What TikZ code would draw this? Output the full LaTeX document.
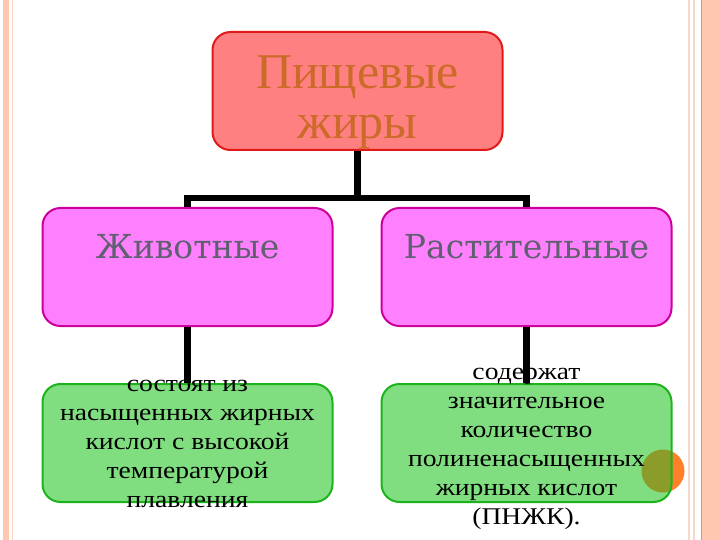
\documentclass[tikz,border=0pt]{standalone}
\usepackage{fontspec}
\setmainfont{Liberation Serif}
\newfontfamily\widefont{DejaVu Serif}
\newfontfamily\notefont[FakeStretch=1.15]{Liberation Serif}
\definecolor{topfill}{HTML}{FF8080}
\definecolor{topline}{HTML}{E01A1A}
\definecolor{toptext}{HTML}{CC6A2A}
\definecolor{magfill}{HTML}{FF80FF}
\definecolor{magline}{HTML}{CC0099}
\definecolor{magtext}{HTML}{5F5F70}
\definecolor{grnfill}{HTML}{80DD80}
\definecolor{grnline}{HTML}{1DB31D}
\definecolor{dotorange}{HTML}{FF7F2A}
\definecolor{dotolive}{HTML}{8C9C2A}
\definecolor{bordsalmon}{HTML}{FFC6B0}
\definecolor{bordline}{HTML}{E8906E}
\definecolor{bordlight}{HTML}{F6D8C6}
\newcommand{\fixedtext}[2]{\raisebox{#1}[0pt][0pt]{\begin{tabular}{@{}c@{}}#2\end{tabular}}}
\begin{document}
\begin{tikzpicture}[x=1pt,y=-1pt,
  boxbase/.style={rounded corners=18pt, line width=2pt, minimum width=290pt, minimum height=118pt, inner sep=0pt},
  topbox/.style={boxbase, fill=topfill, draw=topline, text=toptext, font=\fontsize{50}{50}\selectfont},
  magbox/.style={boxbase, fill=magfill, draw=magline, text=magtext, font=\widefont\fontsize{33}{40}\selectfont},
  grnbox/.style={boxbase, fill=grnfill, draw=grnline, text=black, font=\notefont\fontsize{24}{29}\selectfont},
  conn/.style={line width=6.5pt, black}]
\useasboundingbox (0,0) rectangle (720,540);
% page borders
\fill[bordsalmon] (3,0) rectangle (9,540);
\draw[bordlight, line width=1pt] (12,0) -- (12,540);
\draw[bordlight, line width=1.5pt] (689,0) -- (689,540);
\draw[bordlight, line width=1.5pt] (694,0) -- (694,540);
\fill[bordsalmon] (701,0) rectangle (720,540);
\draw[bordline, line width=1.2pt] (701.5,0) -- (701.5,540);
% nodes
\node[topbox] (top) at (357.5,91) {\fixedtext{-19pt}{Пищевые\\жиры}};
\node[magbox] (animal) at (187.5,267) {\raisebox{9pt}[0pt][0pt]{Животные}};
\node[magbox] (plant) at (526.5,267) {\raisebox{9pt}[0pt][0pt]{Растительные}};
\node[grnbox] (animalnote) at (187.5,443) {\fixedtext{-7pt}{состоят из\\насыщенных жирных\\кислот с высокой\\температурой\\плавления}};
\coordinate (dot) at (663,471);
\fill[dotorange] (dot) circle (21.5pt);
\node[grnbox, path picture={\fill[dotolive] (dot) circle (21.5pt);}] (plantnote) at (526.5,443) {\fixedtext{-9pt}{содержат\\значительное\\количество\\полиненасыщенных\\жирных кислот\\(ПНЖК).}};
% connectors
\coordinate (bar) at (357.5,198);
\draw[conn] (top.south) -- (bar);
\draw[conn] (animal.north) |- (bar) -| (plant.north);
\draw[conn] (animal.south) -- (animalnote.north);
\draw[conn] (plant.south) -- (plantnote.north);
\end{tikzpicture}
\end{document}
